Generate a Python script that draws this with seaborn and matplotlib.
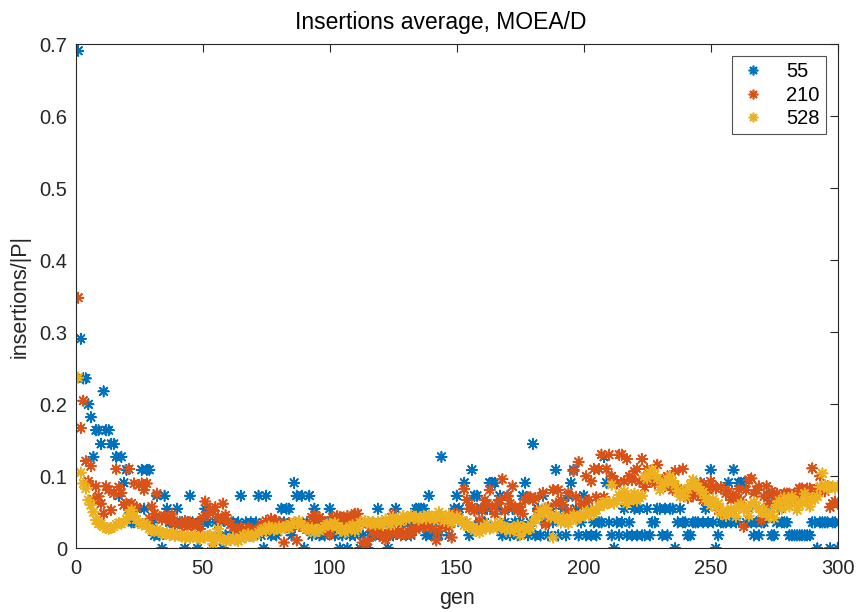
import matplotlib
matplotlib.use("Agg")
import matplotlib.pyplot as plt
import seaborn as sns
import pandas as pd
import numpy as np
from matplotlib.lines import Line2D

sns.set_theme(style="white")
plt.rcParams['font.family'] = ['Liberation Sans', 'DejaVu Sans']

series_names = ["55", "210", "528"]
colors = ["#0072BD", "#D95319", "#EDB120"]

pop55 = [
    0.691,0.291,0.236,0.236,0.2,0.182,0.127,0.164,0.164,0.145,
    0.218,0.164,0.164,0.145,0.145,0.127,0.073,0.127,0.091,0.109,
    0.055,0.036,0.036,0.055,0.036,0.109,0.055,0.109,0.109,0.036,
    0.018,0.073,0.018,0,0.073,0.055,0.036,0.036,0.018,0.055,
    0.036,0.036,0,0.036,0.073,0.036,0.018,0,0.036,0.036,
    0.055,0.036,0.018,0,0.036,0.018,0.036,0,0.018,0.036,
    0.018,0.036,0.018,0.036,0.073,0.018,0.036,0.018,0.036,0.018,
    0.036,0.073,0.018,0,0.073,0.036,0.018,0.036,0.018,0.036,
    0.055,0.036,0.055,0.055,0.018,0.091,0.073,0.036,0.073,0,
    0.036,0.073,0.018,0.055,0.036,0.018,0.036,0.018,0.036,0.055,
    0.036,0.018,0.036,0,0.018,0.036,0,0.018,0.036,0.018,
    0.036,0,0.018,0.036,0,0.018,0.036,0.018,0.055,0.018,
    0.036,0.018,0,0.036,0.018,0.055,0.036,0.018,0.036,0.018,
    0.036,0.018,0.036,0.055,0.055,0.055,0.055,0.018,0.073,0.018,
    0.036,0.018,0.018,0.127,0.036,0.036,0.018,0.036,0.055,0.073,
    0.055,0.036,0.091,0.036,0.018,0.109,0.073,0.073,0.036,0.055,
    0.036,0.055,0.091,0.091,0.091,0.055,0.073,0.018,0.036,0.073,
    0.018,0.055,0.036,0.018,0.036,0.073,0.091,0.018,0.036,0.145,
    0.018,0.055,0.018,0.073,0.036,0.018,0.055,0.036,0.109,0.018,
    0.036,0.055,0.018,0.073,0.091,0.109,0.055,0.018,0.036,0.073,
    0.018,0.055,0.018,0.036,0.018,0.036,0.036,0.127,0.091,0.036,
    0.018,0,0.036,0.018,0.036,0.055,0.018,0.036,0.018,0.055,
    0.018,0.055,0.018,0.018,0.055,0.018,0.036,0.036,0.055,0.055,
    0.018,0.055,0.018,0.055,0.055,0,0.036,0.055,0.036,0.036,
    0.018,0.018,0.036,0.036,0.036,0.091,0.036,0.055,0.036,0.109,
    0.036,0,0.018,0.036,0.036,0.036,0.091,0.036,0.109,0.036,
    0.091,0.091,0.091,0.036,0.055,0.036,0.018,0.036,0.018,0.036,
    0.036,0.055,0.073,0.018,0.018,0.036,0.055,0.036,0.036,0.036,
    0.018,0.018,0.018,0.018,0.018,0.018,0.018,0.018,0.018,0.036,
    0.036,0,0.036,0.036,0.036,0.036,0,0.036,0.036,0,
]

pop210 = [
    0.348,0.167,0.205,0.121,0.093,0.114,0.068,0.086,0.072,0.062,
    0.048,0.086,0.081,0.053,0.076,0.110,0.085,0.077,0.060,0.062,
    0.110,0.062,0.090,0.057,0.088,0.090,0.081,0.090,0.041,0.058,
    0.048,0.076,0.043,0.040,0.045,0.042,0.038,0.047,0.033,0.036,
    0.035,0.033,0.038,0.030,0.036,0.033,0.029,0.035,0.027,0.043,
    0.065,0.046,0.055,0.052,0.057,0.043,0.040,0.062,0.046,0.038,
    0.033,0.029,0.024,0.021,0.029,0.019,0.024,0.029,0.018,0.024,
    0.020,0.026,0.033,0.029,0.038,0.036,0.041,0.031,0.038,0.036,
    0.033,0.008,0.030,0.035,0.029,0.033,0.011,0.031,0.035,0.029,
    0.026,0.033,0.043,0.046,0.040,0.043,0.038,0.033,0.026,0.019,
    0.043,0.040,0.045,0.043,0.042,0.040,0.045,0.043,0.038,0.048,
    0.048,0.036,0.008,0.005,0.010,0.029,0.024,0.019,0.026,0.021,
    0.015,0.012,0.019,0.024,0.048,0.020,0.024,0.019,0.021,0.019,
    0.024,0.020,0.029,0.026,0.031,0.033,0.029,0.036,0.031,0.029,
    0.026,0.011,0.024,0.031,0.036,0.033,0.029,0.015,0.048,0.048,
    0.041,0.038,0.082,0.067,0.055,0.057,0.052,0.055,0.038,0.052,
    0.067,0.062,0.081,0.057,0.048,0.062,0.067,0.096,0.052,0.072,
    0.062,0.086,0.057,0.052,0.057,0.048,0.067,0.071,0.071,0.067,
    0.070,0.052,0.048,0.077,0.033,0.057,0.043,0.081,0.062,0.081,
    0.067,0.060,0.048,0.077,0.052,0.107,0.071,0.120,0.062,0.062,
    0.100,0.067,0.093,0.110,0.071,0.110,0.130,0.071,0.110,0.130,
    0.100,0.095,0.090,0.130,0.130,0.093,0.124,0.100,0.095,0.107,
    0.110,0.093,0.124,0.085,0.110,0.095,0.100,0.090,0.116,0.090,
    0.095,0.086,0.100,0.090,0.081,0.107,0.083,0.081,0.110,0.081,
    0.070,0.076,0.072,0.081,0.076,0.090,0.067,0.085,0.081,0.093,
    0.086,0.083,0.053,0.085,0.048,0.076,0.079,0.067,0.070,0.072,
    0.082,0.067,0.030,0.081,0.095,0.097,0.076,0.081,0.086,0.039,
    0.072,0.086,0.062,0.079,0.071,0.076,0.067,0.072,0.076,0.076,
    0.076,0.067,0.076,0.072,0.083,0.083,0.079,0.083,0.083,0.111,
    0.076,0.083,0.100,0.083,0.079,0.086,0.057,0.062,0.065,0.062,
]

pop528 = [
    0.237,0.105,0.090,0.083,0.067,0.060,0.050,0.039,0.034,0.034,
    0.030,0.028,0.027,0.028,0.030,0.033,0.035,0.034,0.036,0.040,
    0.048,0.053,0.045,0.040,0.035,0.033,0.034,0.032,0.027,0.025,
    0.024,0.026,0.023,0.021,0.020,0.022,0.018,0.020,0.017,0.019,
    0.018,0.016,0.015,0.017,0.014,0.016,0.018,0.015,0.013,0.016,
    0.015,0.017,0.018,0.006,0.016,0.027,0.014,0.012,0.010,0.013,
    0.011,0.015,0.012,0.010,0.013,0.018,0.015,0.020,0.017,0.016,
    0.019,0.022,0.025,0.027,0.024,0.030,0.028,0.025,0.027,0.030,
    0.026,0.029,0.031,0.028,0.033,0.036,0.035,0.038,0.032,0.030,
    0.027,0.025,0.028,0.022,0.026,0.024,0.028,0.030,0.033,0.034,
    0.031,0.035,0.030,0.025,0.028,0.022,0.026,0.030,0.032,0.024,
    0.027,0.036,0.035,0.038,0.037,0.034,0.036,0.033,0.037,0.035,
    0.032,0.040,0.036,0.033,0.043,0.038,0.041,0.037,0.045,0.040,
    0.043,0.046,0.042,0.044,0.040,0.043,0.045,0.041,0.046,0.044,
    0.040,0.042,0.050,0.046,0.038,0.043,0.047,0.035,0.040,0.044,
    0.041,0.038,0.032,0.036,0.030,0.028,0.025,0.027,0.022,0.025,
    0.030,0.034,0.027,0.029,0.033,0.028,0.036,0.030,0.026,0.028,
    0.024,0.028,0.026,0.032,0.018,0.029,0.025,0.030,0.027,0.035,
    0.040,0.044,0.052,0.048,0.056,0.050,0.043,0.015,0.046,0.040,
    0.036,0.043,0.038,0.034,0.042,0.046,0.040,0.044,0.043,0.048,
    0.050,0.045,0.052,0.048,0.053,0.058,0.062,0.060,0.065,0.063,
    0.088,0.062,0.066,0.074,0.070,0.079,0.062,0.068,0.072,0.076,
    0.066,0.070,0.073,0.100,0.097,0.105,0.109,0.102,0.097,0.081,
    0.086,0.090,0.095,0.100,0.093,0.088,0.080,0.072,0.078,0.072,
    0.082,0.088,0.095,0.090,0.085,0.080,0.078,0.070,0.065,0.060,
    0.068,0.057,0.062,0.048,0.053,0.045,0.050,0.055,0.052,0.044,
    0.058,0.062,0.054,0.056,0.045,0.060,0.064,0.058,0.056,0.050,
    0.054,0.048,0.044,0.050,0.042,0.060,0.066,0.055,0.070,0.062,
    0.058,0.072,0.066,0.053,0.060,0.064,0.076,0.066,0.058,0.070,
    0.068,0.072,0.085,0.104,0.088,0.083,0.085,0.086,0.083,0.086,
]

gens = list(range(1, 301))

frames = []
for name, vals in zip(series_names, [pop55, pop210, pop528]):
    frames.append(pd.DataFrame({"gen": gens, "value": vals, "series": name}))
df = pd.concat(frames, ignore_index=True)

fig = plt.figure(figsize=(8.56, 6.12), dpi=100)
ax = fig.add_axes([0.0884, 0.1041, 0.9786 - 0.0884, 0.9276 - 0.1041])

sns.scatterplot(data=df, x="gen", y="value", hue="series", hue_order=series_names,
                palette=colors, marker=(8, 2, 0), s=55, linewidth=1.2,
                ax=ax, legend=False)

ax.set_xlim(0, 300)
ax.set_ylim(0, 0.7)
ax.set_xticks([0, 50, 100, 150, 200, 250, 300])
ax.set_yticks([0, 0.1, 0.2, 0.3, 0.4, 0.5, 0.6, 0.7])
ax.set_yticklabels(["0", "0.1", "0.2", "0.3", "0.4", "0.5", "0.6", "0.7"])

for sp in ax.spines.values():
    sp.set_visible(True)
    sp.set_color("#262626")
    sp.set_linewidth(0.8)
ax.tick_params(axis="both", which="both", direction="in", length=6, width=0.8,
               colors="#262626", labelsize=14.5, top=True, right=True,
               labelcolor="#262626")
ax.tick_params(axis="x", pad=8)
ax.tick_params(axis="y", pad=6)

ax.set_xlabel("gen", fontsize=15.5, color="#262626", labelpad=7)
ax.set_ylabel("insertions/|P|", fontsize=15.5, color="#262626", labelpad=6)
ax.set_title("Insertions average, MOEA/D", fontsize=16.5, color="black",
             pad=11, x=0.479)

handles = [Line2D([], [], linestyle="none", marker=(8, 2, 0), markersize=7,
                  markeredgewidth=1.2, color=c, markeredgecolor=c) for c in colors]
leg = ax.legend(handles, series_names, loc="upper right", fontsize=14.5,
                frameon=True, fancybox=False, edgecolor="#262626",
                handletextpad=0.9, borderpad=0.3, labelspacing=0.22,
                borderaxespad=0.6, handlelength=1.5)
leg.get_frame().set_linewidth(0.8)
for t in leg.get_texts():
    t.set_color("black")

fig.savefig("out.png", dpi=100)
